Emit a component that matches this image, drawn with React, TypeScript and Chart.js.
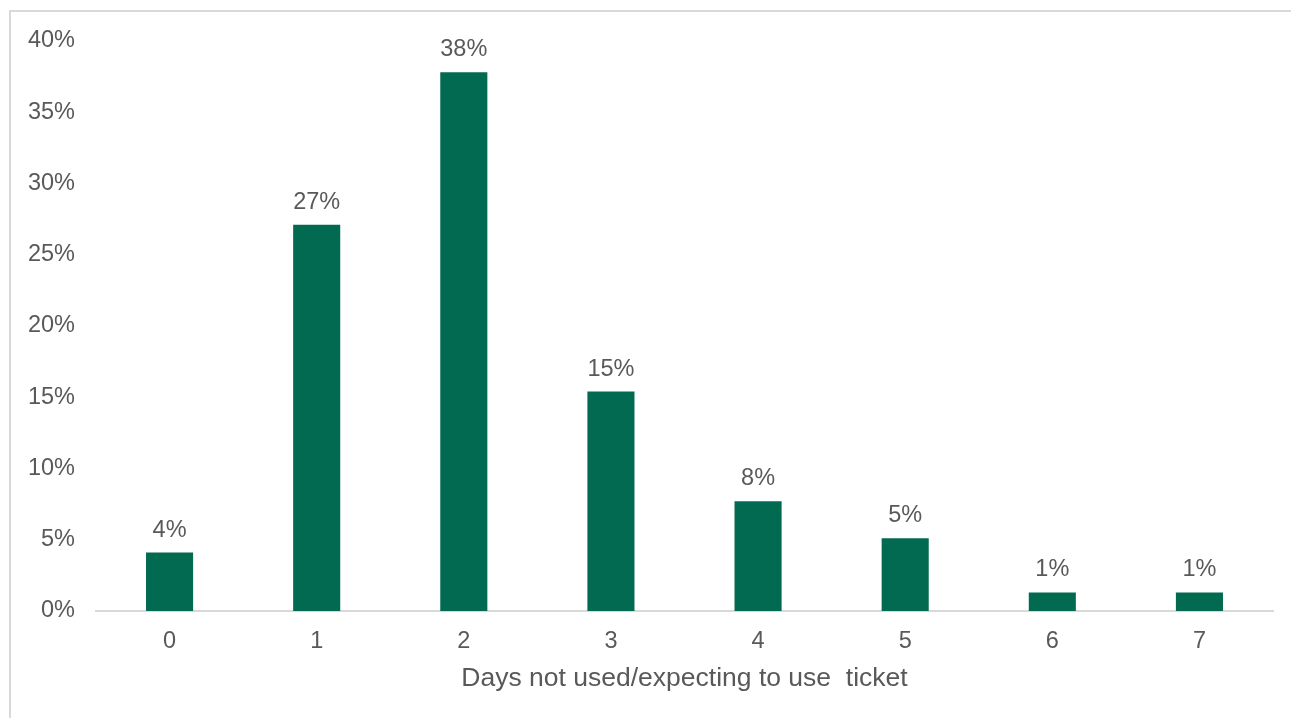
import React, { useEffect, useRef } from "react";
import { Chart, registerables } from "chart.js";

Chart.register(...registerables);

const categories = ["0", "1", "2", "3", "4", "5", "6", "7"];
const shares = [4.1, 27.1, 37.8, 15.4, 7.7, 5.1, 1.3, 1.3];
const yTicks = [0, 5, 10, 15, 20, 25, 30, 35, 40];
const xTitle = "Days not used/expecting to use  ticket";

const FONT = "'Liberation Sans', Arial, sans-serif";
const TEXT = "#595959";
const BAR = "#026A50";
const TICK_SIZE = 23.5;
const TITLE_SIZE = 26.5;

const labelPlugin = {
  id: "barLabels",
  afterDatasetsDraw(chart: any) {
    const ctx = chart.ctx;
    const meta = chart.getDatasetMeta(0);
    ctx.save();
    ctx.font = `${TICK_SIZE}px ${FONT}`;
    ctx.fillStyle = TEXT;
    ctx.textAlign = "center";
    ctx.textBaseline = "alphabetic";
    meta.data.forEach((el: any, i: number) => {
      ctx.fillText(Math.round(shares[i]) + "%", el.x, el.y - 16);
    });
    ctx.restore();
  },
};

export default function App() {
  const ref = useRef<HTMLCanvasElement>(null);
  useEffect(() => {
    const chart = new Chart(ref.current!, {
      type: "bar",
      data: {
        labels: categories,
        datasets: [
          {
            data: shares,
            backgroundColor: BAR,
            barPercentage: 0.32,
            categoryPercentage: 1,
          },
        ],
      },
      options: {
        responsive: false,
        animation: false,
        layout: { padding: { top: 29, right: 18, left: 0, bottom: 6 } },
        plugins: { legend: { display: false }, tooltip: { enabled: false } },
        scales: {
          x: {
            afterFit: (scale: any) => {
              scale.height = 95;
            },
            grid: { display: false, drawTicks: false },
            border: { display: true, color: "#d9d9d9", width: 2 },
            ticks: { color: TEXT, font: { family: FONT, size: TICK_SIZE }, padding: 16 },
            title: {
              display: true,
              text: xTitle,
              color: TEXT,
              font: { family: FONT, size: TITLE_SIZE },
              padding: { top: 0, bottom: 11 },
            },
          },
          y: {
            min: 0,
            max: 40,
            afterBuildTicks: (scale: any) => {
              scale.ticks = yTicks.map((v) => ({ value: v }));
            },
            afterFit: (scale: any) => {
              scale.width = 85;
              scale.paddingTop = 0;
              scale.paddingBottom = 0;
            },
            grid: { display: false, drawTicks: false },
            border: { display: false },
            ticks: {
              color: TEXT,
              font: { family: FONT, size: TICK_SIZE },
              padding: 21,
              callback: (v: any) => v + "%",
            },
          },
        },
      },
      plugins: [labelPlugin],
    });
    return () => chart.destroy();
  }, []);

  return (
    <div
      style={{
        position: "absolute",
        left: 9,
        top: 10,
        width: 1300,
        height: 720,
        border: "2px solid #d9d9d9",
        boxSizing: "border-box",
        background: "#fff",
      }}
    >
      <canvas ref={ref} width={1280} height={700} style={{ display: "block" }} />
    </div>
  );
}
